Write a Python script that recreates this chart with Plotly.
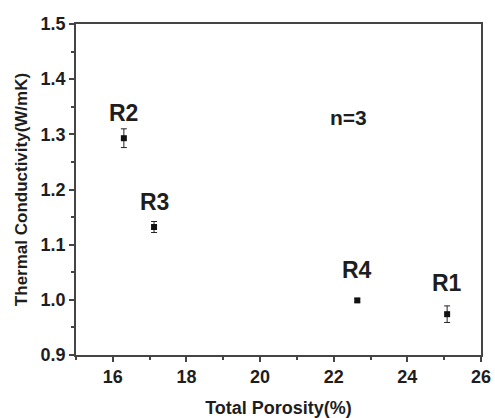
import plotly.graph_objects as go

samples = ["R2", "R3", "R4", "R1"]
porosity = [16.30, 17.12, 22.64, 25.08]
conductivity = [1.293, 1.132, 0.999, 0.974]
err = [0.017, 0.010, 0.003, 0.015]
label_y = [1.338, 1.178, 1.054, 1.031]
x_ticks = [16, 18, 20, 22, 24, 26]
y_ticks = [0.9, 1.0, 1.1, 1.2, 1.3, 1.4, 1.5]

FONT = "Liberation Sans"
axc = "#444444"
txt = "#1e1e1e"

fig = go.Figure()
fig.add_trace(go.Scatter(
    x=porosity, y=conductivity, mode="markers",
    marker=dict(symbol="square", size=6, color="#111111"),
    error_y=dict(type="data", array=err, visible=True, color="#222222", thickness=1, width=3),
    showlegend=False,
))
for s, x, y in zip(samples, porosity, label_y):
    fig.add_annotation(x=x, y=y, text="<b>%s</b>" % s, showarrow=False,
                       font=dict(family=FONT, size=23, color=txt))
fig.add_annotation(x=22.39, y=1.33, text="<b>n=3</b>", showarrow=False,
                   font=dict(family=FONT, size=21, color=txt))

axis_common = dict(
    showline=True, linecolor=axc, linewidth=1.5, mirror=True,
    ticks="outside", ticklen=5, tickwidth=1.5, tickcolor=axc,
    showgrid=False, zeroline=False, automargin=False,
    tickfont=dict(family=FONT, size=18, color=txt),
)
fig.update_xaxes(range=[15, 26], tickvals=x_ticks,
                 ticktext=["<b>%d</b>" % v for v in x_ticks],
                 minor=dict(dtick=1, tick0=15, ticks="outside", ticklen=3, tickcolor=axc),
                 title=dict(text="<b>Total Porosity(%)</b>", font=dict(family=FONT, size=18, color=txt), standoff=16),
                 **axis_common)
fig.update_yaxes(range=[0.9, 1.5], tickvals=y_ticks,
                 ticktext=["<b>%.1f</b>" % v for v in y_ticks],
                 minor=dict(dtick=0.05, tick0=0.9, ticks="outside", ticklen=3, tickcolor=axc),
                 title=dict(text="<b>Thermal Conductivity(W/mK)</b>", font=dict(family=FONT, size=17, color=txt), standoff=9),
                 **axis_common)
fig.update_layout(
    width=495, height=418,
    margin=dict(l=76, r=14, t=24, b=63),
    plot_bgcolor="white", paper_bgcolor="white",
)
fig.write_html("out.html")
